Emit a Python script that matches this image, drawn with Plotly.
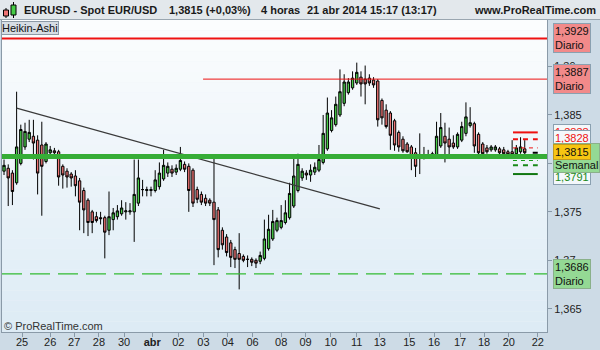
import plotly.graph_objects as go

# ---------------- data (Heikin-Ashi 4h candles, EURUSD) ----------------
open_ = [1.3792,1.3795,1.3790,1.3780,1.3800,1.3817,1.3825,1.3828,1.3824,1.3819,
         1.3802,1.3811,1.3813,1.3812,1.3797,1.3792,1.3789,1.3787,1.3782,1.3772,
         1.3762,1.3750,1.3745,1.3744,1.3744,1.3731,1.3742,1.3745,1.3748,1.3750,
         1.3750,1.3750,1.3759,1.3773,1.3772,1.3772,1.3772,1.3776,1.3784,1.3790,
         1.3794,1.3791,1.3794,1.3799,1.3797,1.3793,1.3773,1.3768,1.3764,1.3762,
         1.3760,1.3752,1.3731,1.3724,1.3718,1.3711,1.3707,1.3704,1.3701,1.3701,
         1.3700,1.3699,1.3702,1.3712,1.3722,1.3731,1.3734,1.3739,1.3744,1.3756,
         1.3772,1.3785,1.3790,1.3788,1.3791,1.3793,1.3801,1.3815,1.3834,1.3840,
         1.3850,1.3862,1.3873,1.3878,1.3883,1.3889,1.3887,1.3888,1.3886,1.3885,
         1.3865,1.3855,1.3852,1.3844,1.3832,1.3825,1.3820,1.3817,1.3811,1.3805,
         1.3806,1.3807,1.3807,1.3809,1.3818,1.3828,1.3825,1.3821,1.3817,1.3824,
         1.3831,1.3839,1.3841,1.3830,1.3820,1.3816,1.3814,1.3814,1.3815,1.3814,
         1.3812,1.3812,1.3810,1.3812,1.3815]
high = [1.3804,1.3799,1.3793,1.3874,1.3840,1.3842,1.3845,1.3845,1.3829,1.3843,
        1.3822,1.3818,1.3816,1.3814,1.3799,1.3795,1.3791,1.3793,1.3785,1.3775,
        1.3764,1.3752,1.3750,1.3750,1.3746,1.3771,1.3754,1.3757,1.3762,1.3760,
        1.3759,1.3804,1.3804,1.3783,1.3776,1.3776,1.3793,1.3801,1.3814,1.3801,
        1.3798,1.3799,1.3817,1.3802,1.3800,1.3795,1.3776,1.3771,1.3768,1.3764,
        1.3807,1.3755,1.3734,1.3727,1.3721,1.3714,1.3728,1.3706,1.3705,1.3703,
        1.3702,1.3709,1.3742,1.3747,1.3752,1.3744,1.3757,1.3762,1.3780,1.3806,
        1.3810,1.3795,1.3793,1.3799,1.3801,1.3819,1.3850,1.3868,1.3855,1.3869,
        1.3897,1.3892,1.3888,1.3895,1.3904,1.3895,1.3901,1.3892,1.3889,1.3887,
        1.3867,1.3861,1.3854,1.3846,1.3834,1.3828,1.3822,1.3819,1.3816,1.3831,
        1.3817,1.3814,1.3812,1.3843,1.3852,1.3842,1.3837,1.3829,1.3832,1.3843,
        1.3863,1.3858,1.3843,1.3832,1.3822,1.3819,1.3819,1.3819,1.3817,1.3817,
        1.3814,1.3824,1.3819,1.3827,1.3824]
low = [1.3788,1.3756,1.3757,1.3778,1.3798,1.3814,1.3822,1.3804,1.3768,1.3746,
       1.3800,1.3808,1.3808,1.3777,1.3774,1.3775,1.3776,1.3766,1.3731,1.3728,
       1.3725,1.3728,1.3739,1.3737,1.3702,1.3726,1.3731,1.3742,1.3746,1.3742,
       1.3747,1.3719,1.3756,1.3766,1.3766,1.3766,1.3770,1.3773,1.3782,1.3786,
       1.3786,1.3788,1.3792,1.3791,1.3750,1.3755,1.3759,1.3757,1.3756,1.3756,
       1.3695,1.3703,1.3711,1.3704,1.3693,1.3692,1.3670,1.3698,1.3693,1.3694,
       1.3692,1.3696,1.3700,1.3710,1.3720,1.3729,1.3732,1.3737,1.3742,1.3754,
       1.3770,1.3782,1.3783,1.3781,1.3788,1.3791,1.3799,1.3813,1.3832,1.3838,
       1.3848,1.3859,1.3871,1.3876,1.3881,1.3869,1.3861,1.3880,1.3878,1.3838,
       1.3840,1.3836,1.3814,1.3813,1.3812,1.3811,1.3811,1.3793,1.3786,1.3789,
       1.3804,1.3805,1.3806,1.3807,1.3816,1.3801,1.3807,1.3815,1.3815,1.3822,
       1.3828,1.3837,1.3811,1.3809,1.3808,1.3810,1.3812,1.3812,1.3809,1.3808,
       1.3807,1.3807,1.3808,1.3810,1.3806]
close = [1.3798,1.3785,1.3771,1.3817,1.3835,1.3833,1.3832,1.3821,1.3790,1.3797,
         1.3820,1.3814,1.3811,1.3786,1.3788,1.3786,1.3785,1.3777,1.3760,1.3752,
         1.3739,1.3739,1.3741,1.3743,1.3729,1.3745,1.3749,1.3751,1.3754,1.3751,
         1.3751,1.3768,1.3785,1.3773,1.3773,1.3773,1.3783,1.3790,1.3798,1.3797,
         1.3790,1.3795,1.3803,1.3794,1.3772,1.3759,1.3763,1.3760,1.3759,1.3759,
         1.3742,1.3711,1.3716,1.3708,1.3703,1.3701,1.3701,1.3700,1.3701,1.3698,
         1.3697,1.3705,1.3722,1.3732,1.3740,1.3741,1.3741,1.3749,1.3769,1.3787,
         1.3799,1.3792,1.3788,1.3793,1.3796,1.3804,1.3831,1.3852,1.3847,1.3861,
         1.3874,1.3884,1.3884,1.3888,1.3894,1.3882,1.3882,1.3883,1.3881,1.3845,
         1.3847,1.3838,1.3829,1.3819,1.3817,1.3813,1.3812,1.3807,1.3797,1.3806,
         1.3809,1.3809,1.3810,1.3828,1.3837,1.3821,1.3817,1.3817,1.3830,1.3838,
         1.3848,1.3842,1.3818,1.3811,1.3810,1.3812,1.3817,1.3817,1.3811,1.3810,
         1.3809,1.3809,1.3816,1.3817,1.3811]

# date ticks (position in candle index units) and labels
tick_pos = [4.3, 11.0, 16.7, 22.6, 28.6, 35.3, 41.5, 47.5, 53.3, 59.2, 66.0,
            71.8, 77.8, 84.0, 89.5, 96.5, 102.4, 108.6, 114.3, 120.2, 127.1]
tick_lab = ["25", "26", "27", "28", "30", "<b>abr</b>", "02", "03", "04", "06", "08",
            "09", "10", "11", "13", "15", "16", "17", "18", "20", "22"]

price_ticks = [1.365, 1.370, 1.375, 1.380, 1.385, 1.390]
price_tick_lab = ["1,365", "1,37", "1,375", "1,38", "1,385", "1,39"]

# support / resistance levels
res_daily_1 = 1.3929
res_daily_2 = 1.3887
res_daily_2_start = 47.4
sup_weekly = 1.3807
sup_daily = 1.3686
trend_x = [3.0, 89.5]
trend_y = [1.3857, 1.3753]
pivot_levels = [1.3832, 1.3825, 1.3816, 1.3811, 1.3803, 1.3798, 1.3789]
pivot_x = [121.2, 127.1]

last_price = "1,3815"
header_items = ["EURUSD - Spot EUR/USD", "1,3815 (+0,03%)", "4 horas",
                "21 abr 2014 15:17 (13:17)", "www.ProRealTime.com"]

# ---------------- figure ----------------
n = len(open_)
xs = list(range(n))
W, H = 600, 350
ML, MR, MT, MB = 2, 53, 20, 18
PW, PH = W - ML - MR, H - MT - MB


def px(xp):
    return (xp - ML) / PW


def py(yp):
    return (H - MB - yp) / PH


fig = go.Figure()

fig.add_trace(go.Candlestick(
    x=xs, open=open_, high=high, low=low, close=close,
    increasing=dict(fillcolor="#47cc47", line=dict(color="#000000", width=1)),
    decreasing=dict(fillcolor="#ef7474", line=dict(color="#000000", width=1)),
    whiskerwidth=0, showlegend=False, hoverinfo="skip"))

# trend line
fig.add_trace(go.Scatter(x=trend_x, y=trend_y, mode="lines",
                         line=dict(color="#3a3a3a", width=1.2),
                         showlegend=False, hoverinfo="skip"))

shapes = []
# background gradient of plot area
NB = 30
top_c = (252, 253, 254)
bot_c = (220, 235, 245)
for k in range(NB):
    t = (k + 0.5) / NB
    c = tuple(int(round(top_c[j] + (bot_c[j] - top_c[j]) * t)) for j in range(3))
    shapes.append(dict(type="rect", xref="paper", yref="paper",
                       x0=0, x1=1, y0=1 - (k + 1) / NB, y1=1 - k / NB,
                       fillcolor="rgb(%d,%d,%d)" % c, line=dict(width=0), layer="below"))
# header bar
shapes.append(dict(type="rect", xref="paper", yref="paper",
                   x0=px(0), x1=px(600), y0=py(20), y1=py(0),
                   fillcolor="#e3e8ec", line=dict(width=0), layer="below"))
shapes.append(dict(type="line", xref="paper", yref="paper",
                   x0=px(0), x1=px(600), y0=py(19.5), y1=py(19.5),
                   line=dict(color="#9aa6b0", width=1)))
# header icon
shapes += [
    dict(type="line", xref="paper", yref="paper", x0=px(6), x1=px(6), y0=py(18), y1=py(8),
         line=dict(color="#000", width=1)),
    dict(type="rect", xref="paper", yref="paper", x0=px(3.5), x1=px(8.5), y0=py(16), y1=py(10),
         fillcolor="#ef7474", line=dict(color="#000", width=1)),
    dict(type="line", xref="paper", yref="paper", x0=px(13.5), x1=px(13.5), y0=py(18), y1=py(2),
         line=dict(color="#000", width=1)),
    dict(type="rect", xref="paper", yref="paper", x0=px(11), x1=px(16), y0=py(15), y1=py(5),
         fillcolor="#47cc47", line=dict(color="#000", width=1)),
]

# horizontal levels
shapes.append(dict(type="line", xref="paper", yref="y", x0=0, x1=1,
                   y0=res_daily_1, y1=res_daily_1, line=dict(color="#ee1111", width=2)))
shapes.append(dict(type="line", xref="x", yref="y", x0=res_daily_2_start, x1=129.3,
                   y0=res_daily_2, y1=res_daily_2, line=dict(color="#ee1111", width=1)))
shapes.append(dict(type="line", xref="paper", yref="y", x0=0, x1=1,
                   y0=sup_weekly, y1=sup_weekly, line=dict(color="#36ad36", width=5)))
shapes.append(dict(type="line", xref="paper", yref="y", x0=0, x1=1,
                   y0=sup_daily, y1=sup_daily, line=dict(color="#33bb33", width=1.3, dash="20px,8px")))

pivot_styles = [
    dict(color="#ee1111", width=2),
    dict(color="#ee1111", width=2, dash="5px,5px"),
    dict(color="#ee1111", width=1, dash="4px,4px"),
    dict(color="#000000", width=2),
    dict(color="#1a9a1a", width=1, dash="4px,4px"),
    dict(color="#1a8a1a", width=2, dash="5px,5px"),
    dict(color="#117711", width=2),
]
for lvl, st in zip(pivot_levels, pivot_styles):
    x0 = pivot_x[0] if st["color"] != "#000000" else pivot_x[1] - 1.2
    shapes.append(dict(type="line", xref="x", yref="y", x0=x0, x1=pivot_x[1],
                       y0=lvl, y1=lvl, line=st))

annotations = []
FONT = "Liberation Sans, Arial, sans-serif"
hx = [23, 168, 260, 306]
for txt, xp in zip(header_items[:4], hx):
    annotations.append(dict(xref="paper", yref="paper", x=px(xp), y=py(10),
                            xanchor="left", yanchor="middle", showarrow=False,
                            text="<b>%s</b>" % txt, borderpad=0,
                            font=dict(family=FONT, size=11, color="#1a1a1a")))
annotations.append(dict(xref="paper", yref="paper", x=px(597), y=py(10),
                        xanchor="right", yanchor="middle", showarrow=False,
                        text="<b>%s</b>" % header_items[4], borderpad=0,
                        font=dict(family=FONT, size=11, color="#1a1a1a")))
annotations.append(dict(xref="paper", yref="paper", x=px(1), y=py(20.5),
                        xanchor="left", yanchor="top", showarrow=False,
                        text="Heikin-Ashi", bgcolor="#d6dde4", bordercolor="#8d9aa6",
                        borderwidth=1, borderpad=0,
                        font=dict(family=FONT, size=11, color="#111")))
annotations.append(dict(xref="paper", yref="paper", x=px(3), y=py(326),
                        xanchor="left", yanchor="middle", showarrow=False,
                        text="© ProRealTime.com", borderpad=0,
                        font=dict(family=FONT, size=11, color="#333")))

bx = px(553)


def box(y, text, bg, fc="#111", border="#8aa0b0", anchor="middle"):
    annotations.append(dict(xref="paper", yref="y", x=bx, y=y, xanchor="left",
                            yanchor=anchor, showarrow=False, text=text, align="left",
                            bgcolor=bg, bordercolor=border, borderwidth=1, borderpad=1,
                            font=dict(family=FONT, size=11, color=fc)))


box(1.3929, "1,3929<br>Diario", "#f28a8a")
box(1.3887, "1,3887<br>Diario", "#f28a8a")
box(1.3841, "1,3838", "#f4f8fb", fc="#ee1111", anchor="top")
box(1.3834, "1,3828", "#f4f8fb", fc="#ee1111", anchor="top")
box(1.3794, "1,3791", "#f4f8fb", fc="#1a8a1a", anchor="top")
box(1.3821, "&nbsp;<br>Semanal", "#94d994", border="#8ab08a", anchor="top")
box(1.3820, last_price, "#f7c512", border="#c09a20", anchor="top")
box(1.3686, "1,3686<br>Diario", "#94d994", border="#8ab08a")

fig.update_layout(
    width=W, height=H,
    margin=dict(l=ML, r=MR, t=MT, b=MB, pad=0, autoexpand=False),
    paper_bgcolor="#cddbe6",
    plot_bgcolor="#eef4f9",
    boxgap=0.2,
    showlegend=False,
    shapes=shapes,
    annotations=annotations,
    font=dict(family=FONT, size=11, color="#222"),
    xaxis=dict(range=[-0.48, 129.3], tickmode="array", tickvals=tick_pos, ticktext=tick_lab,
               ticks="outside", ticklen=4, tickcolor="#8899a8", showgrid=False,
               zeroline=False, showline=True, linecolor="#8a9aa8", linewidth=1, mirror=True,
               rangeslider=dict(visible=False), tickfont=dict(size=11, color="#222"),
               ticklabelstandoff=-4, fixedrange=True, automargin=False),
    yaxis=dict(range=[1.3626, 1.3948], side="right", tickmode="array",
               tickvals=price_ticks, ticktext=price_tick_lab, ticks="outside", ticklen=4,
               tickcolor="#8899a8", showgrid=False, zeroline=False, showline=True,
               linecolor="#8a9aa8", linewidth=1, mirror=True,
               tickfont=dict(size=11, color="#222"), fixedrange=True, automargin=False),
)

fig.write_html("out.html")
